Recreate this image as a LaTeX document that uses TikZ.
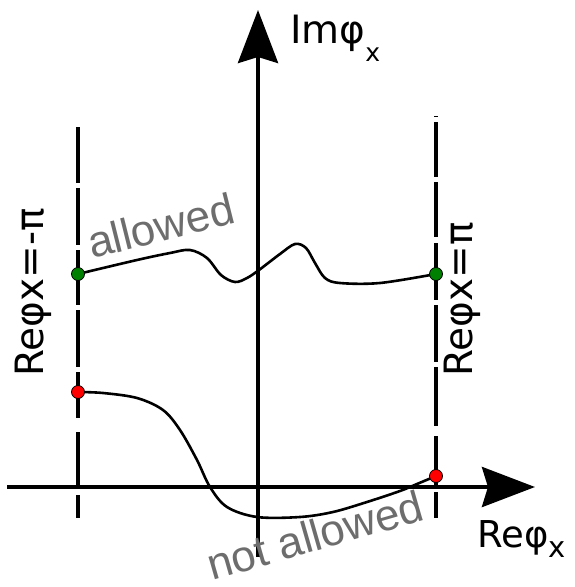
\documentclass[tikz,border=0pt]{standalone}
\usepackage{fontspec}
\setmainfont{DejaVu Sans}
\newfontfamily\notefont{Liberation Sans}
\usetikzlibrary{arrows.meta}
\definecolor{labelgray}{HTML}{6D6D6D}
\definecolor{dotgreen}{HTML}{008000}
\definecolor{dotred}{HTML}{FF0000}
% lowered, smaller index letter
\newcommand\lowsub[3]{\raisebox{#1}{\fontsize{#2}{#2}\selectfont #3}}

\begin{document}
\begin{tikzpicture}[x=1pt,y=-1pt,
  axis/.style={line width=4pt,-{Stealth[length=53pt,width=40pt,inset=6pt]}},
  boundary/.style={line width=4pt},
  branch/.style={line width=2.6pt},
  endpoint/.style={circle,draw=black,line width=0.8pt,inner sep=0pt,minimum size=13pt},
  note/.style={text=labelgray,font=\notefont\fontsize{44}{44}\selectfont,inner sep=0pt},
  axislabel/.style={font=\fontsize{39}{39}\selectfont,inner sep=0pt}]
\useasboundingbox (0,0) rectangle (574,587);

% Brillouin zone edges Re(phi_x) = -pi and Re(phi_x) = pi
\foreach \a/\b in {127/183,188/245,250/305,310/367,372/418,432/487,495/518}
  \draw[boundary] (78,\a) -- (78,\b);
\foreach \a/\b in {116/117,122/177,182/237,243/300,305/362,367/426,436/487,492/518}
  \draw[boundary] (436,\a) -- (436,\b);

% axes
\coordinate (imtail) at (258,557);
\coordinate (imtip) at (258,10);
\coordinate (retail) at (7,487);
\coordinate (retip) at (535,487);
\draw[axis] (imtail) -- (imtip);
\draw[axis] (retail) -- (retip);

% end points of the two paths
\coordinate (pgl) at (78,274);
\coordinate (pgr) at (436,274);
\coordinate (prl) at (78,392);
\coordinate (prr) at (436,476);

% allowed path: starts and ends at the same height
\draw[branch] plot[smooth,tension=0.55] coordinates {(pgl) (137,260) (170,253) (190,250)
  (207,258) (221,275) (235,282) (247,278) (259,270) (280,254) (295,244) (306,248)
  (315,263) (325,278) (340,283) (380,283) (pgr)};
% not allowed path: ends at a different height
\draw[branch] plot[smooth,tension=0.55] coordinates {(prl) (103,393) (137,398) (163,410)
  (180,430) (197,460) (210,487) (227,507) (257,517) (300,517) (333,512) (367,502)
  (400,491) (417,484) (prr)};

\node[endpoint,fill=dotgreen] (gl) at (pgl) {};
\node[endpoint,fill=dotgreen] (gr) at (pgr) {};
\node[endpoint,fill=dotred] (rl) at (prl) {};
\node[endpoint,fill=dotred] (rr) at (prr) {};

% labels
\node[axislabel,anchor=base west] (imlab) at (290,43) {Imφ\lowsub{-18pt}{25}{x}};
\node[font=\fontsize{37}{37}\selectfont,inner sep=0pt,anchor=base west] (relab) at (477,547) {Reφ\lowsub{-10pt}{29}{x}};
\node[axislabel,rotate=90,anchor=base west] (leftedge) at (43,377) {Reφx=-π};
\node[axislabel,rotate=90,anchor=base west] (rightedge) at (472,377) {Reφx=π};
\node[note,rotate=14,anchor=base west] (allowed) at (92,259) {allowed};
\node[note,rotate=16,anchor=base west] (notallowed) at (212,581) {not allowed};
\end{tikzpicture}
\end{document}
